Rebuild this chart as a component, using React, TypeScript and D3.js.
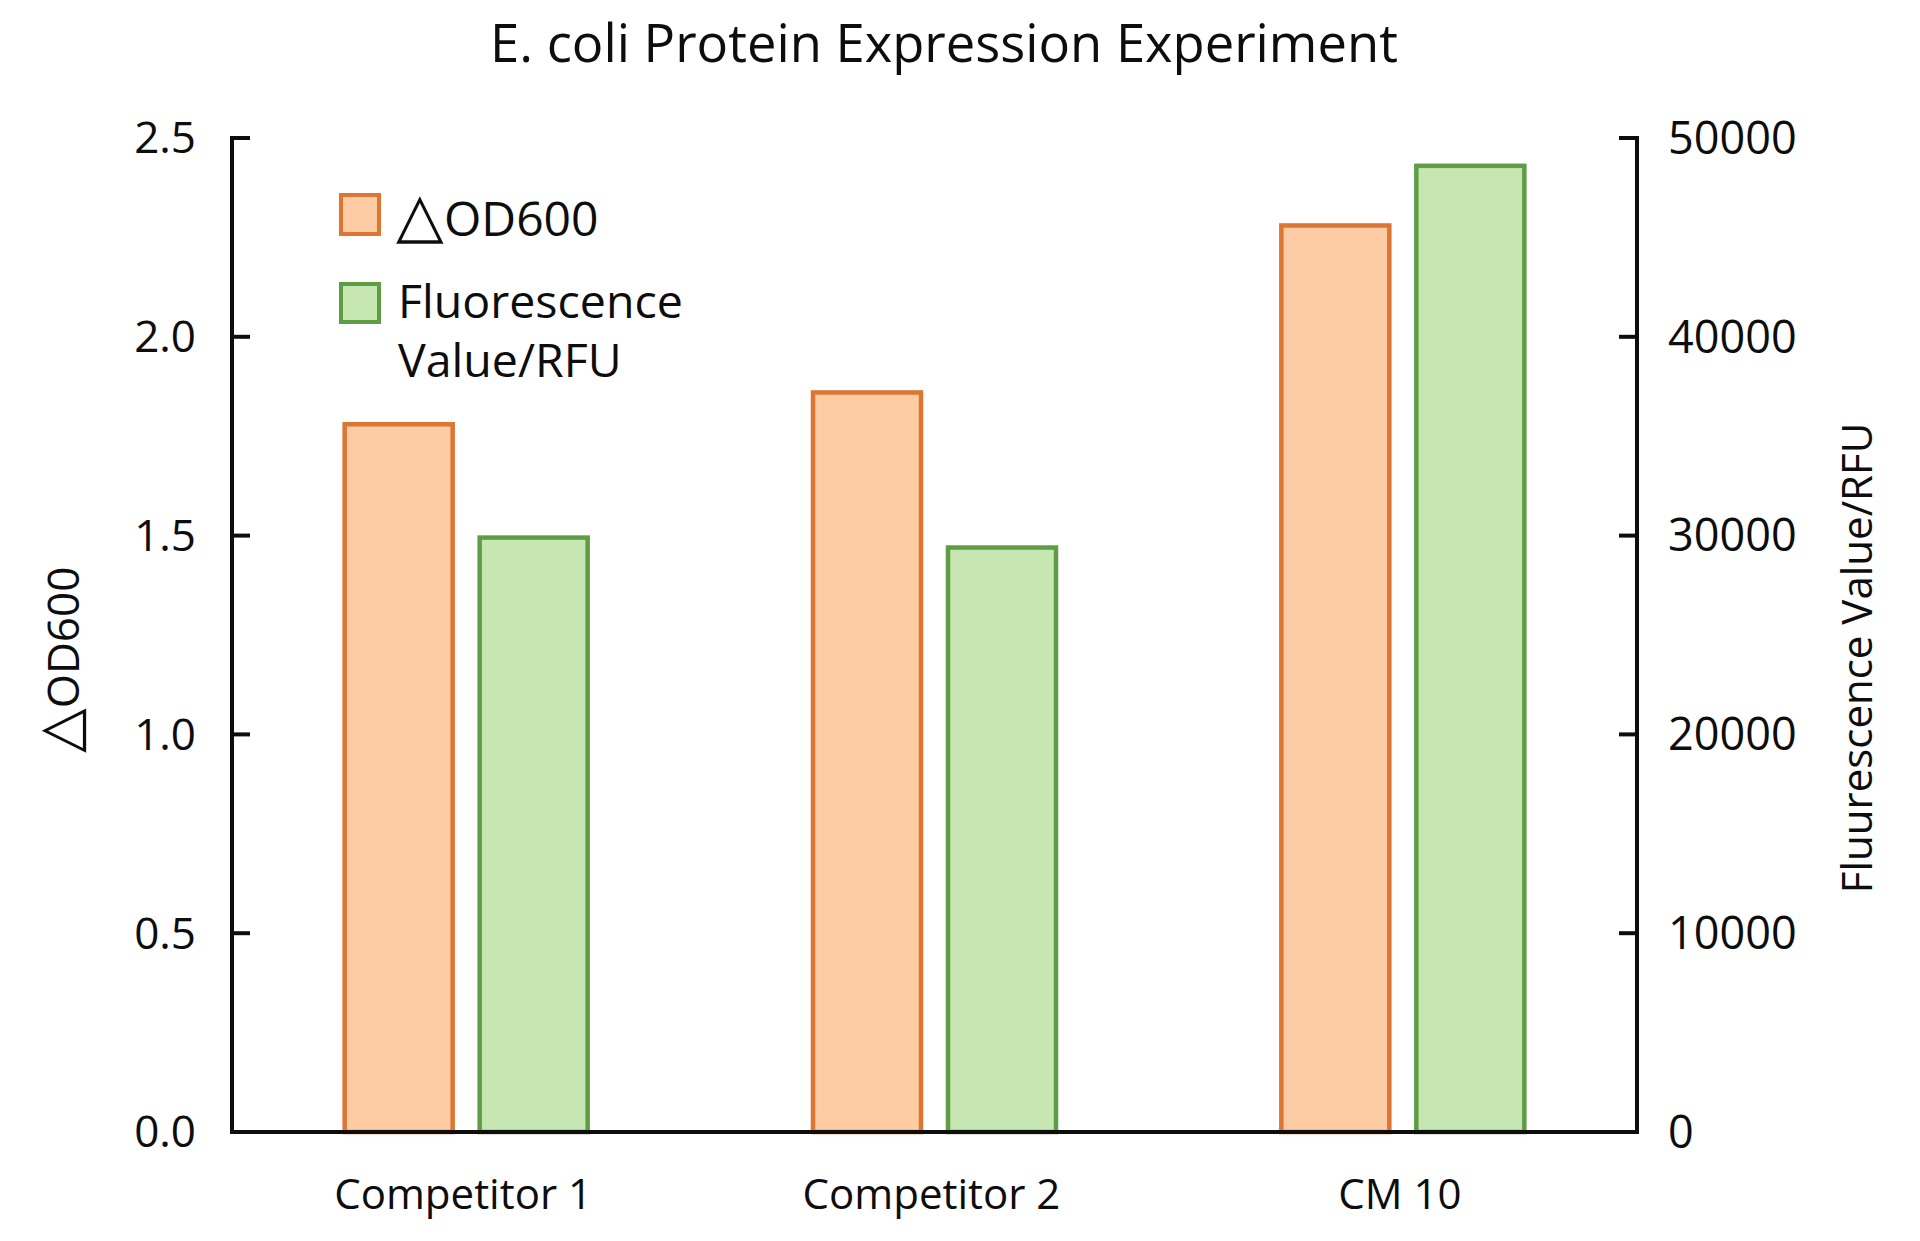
import React from "react";
import * as d3 from "d3";

const categories = ["Competitor 1", "Competitor 2", "CM 10"];
const od600 = [1.78, 1.86, 2.28];
const fluorescence = [29900, 29400, 48600];
const leftTicks = [0, 0.5, 1.0, 1.5, 2.0, 2.5];
const rightTicks = [0, 10000, 20000, 30000, 40000, 50000];
const seriesKeys = ["od", "fl"];

const W = 1920;
const H = 1241;
const left = 232;
const right = 1637;
const top = 138;
const bottom = 1132;
const FONT = "'Open Sans', 'Noto Sans', sans-serif";

const orangeFill = "#fdcca5";
const orangeStroke = "#dd7533";
const greenFill = "#c6e7b1";
const greenStroke = "#5f9d44";
const ink = "#0d0d0d";

export default function App() {
  const x0 = d3.scaleBand<string>().domain(categories).range([left, right]).padding(0);
  const bw = x0.bandwidth();
  const groupW = 243;
  const x1 = d3
    .scaleBand<string>()
    .domain(seriesKeys)
    .range([(bw - groupW) / 2, (bw + groupW) / 2])
    .paddingInner(0.2)
    .paddingOuter(0);
  const yL = d3.scaleLinear().domain([0, 2.5]).range([bottom, top]);
  const yR = d3.scaleLinear().domain([0, 50000]).range([bottom, top]);
  const tickLen = 18;

  return (
    <svg
      width={W}
      height={H}
      viewBox={`0 0 ${W} ${H}`}
      style={{ position: "absolute", left: 0, top: 0, background: "#fff" }}
      fontFamily={FONT}
    >
      <rect x={0} y={0} width={W} height={H} fill="#fff" />
      {/* Title */}
      <text x={944} y={62} textAnchor="middle" fontSize={52.5} fill={ink}>
        E. coli Protein Expression Experiment
      </text>

      {/* Bars */}
      {categories.map((c, i) => {
        const gx = x0(c) as number;
        const xo = gx + (x1("od") as number);
        const xf = gx + (x1("fl") as number);
        const w = x1.bandwidth();
        return (
          <g key={c}>
            <rect
              x={xo}
              y={yL(od600[i])}
              width={w}
              height={bottom - yL(od600[i])}
              fill={orangeFill}
              stroke={orangeStroke}
              strokeWidth={4.5}
            />
            <rect
              x={xf}
              y={yR(fluorescence[i])}
              width={w}
              height={bottom - yR(fluorescence[i])}
              fill={greenFill}
              stroke={greenStroke}
              strokeWidth={4.5}
            />
          </g>
        );
      })}

      {/* Left axis */}
      <line x1={left} x2={left} y1={top - 2} y2={bottom} stroke={ink} strokeWidth={4} />
      {leftTicks.map((t) => (
        <g key={"l" + t}>
          <line x1={left} x2={left + tickLen} y1={yL(t)} y2={yL(t)} stroke={ink} strokeWidth={4} />
          <text x={196} y={yL(t)} dy="0.35em" textAnchor="end" fontSize={44} fill={ink}>
            {d3.format(".1f")(t)}
          </text>
        </g>
      ))}

      {/* Right axis */}
      <line x1={right} x2={right} y1={top - 2} y2={bottom} stroke={ink} strokeWidth={4} />
      {rightTicks.map((t) => (
        <g key={"r" + t}>
          <line x1={right - tickLen} x2={right} y1={yR(t)} y2={yR(t)} stroke={ink} strokeWidth={4} />
          <text x={1668} y={yR(t)} dy="0.35em" textAnchor="start" fontSize={45} fill={ink}>
            {String(t)}
          </text>
        </g>
      ))}

      {/* Bottom axis */}
      <line x1={left - 2} x2={right + 2} y1={bottom} y2={bottom} stroke={ink} strokeWidth={4} />
      {categories.map((c) => (
        <text
          key={"c" + c}
          x={(x0(c) as number) + bw / 2 - 3}
          y={1209}
          textAnchor="middle"
          fontSize={42}
          fill={ink}
        >
          {c}
        </text>
      ))}

      {/* Axis titles */}
      <text transform={`translate(79, 660) rotate(-90)`} textAnchor="middle" fontSize={44} fill={ink}>
        <tspan fontSize={58}>△</tspan>
        <tspan>OD600</tspan>
      </text>
      <text transform={`translate(1872, 658) rotate(-90)`} textAnchor="middle" fontSize={42} fill={ink}>
        Fluurescence Value/RFU
      </text>

      {/* Legend */}
      <rect x={341} y={195} width={38} height={39} fill={orangeFill} stroke={orangeStroke} strokeWidth={4} />
      <text x={396} y={236} fontSize={48} fill={ink}>
        <tspan fontSize={62}>△</tspan>
        <tspan>OD600</tspan>
      </text>
      <rect x={341} y={284} width={38} height={38} fill={greenFill} stroke={greenStroke} strokeWidth={4} />
      <text x={398} y={318} fontSize={46.5} fill={ink}>
        Fluorescence
      </text>
      <text x={398} y={377} fontSize={46.5} fill={ink}>
        Value/RFU
      </text>
    </svg>
  );
}
